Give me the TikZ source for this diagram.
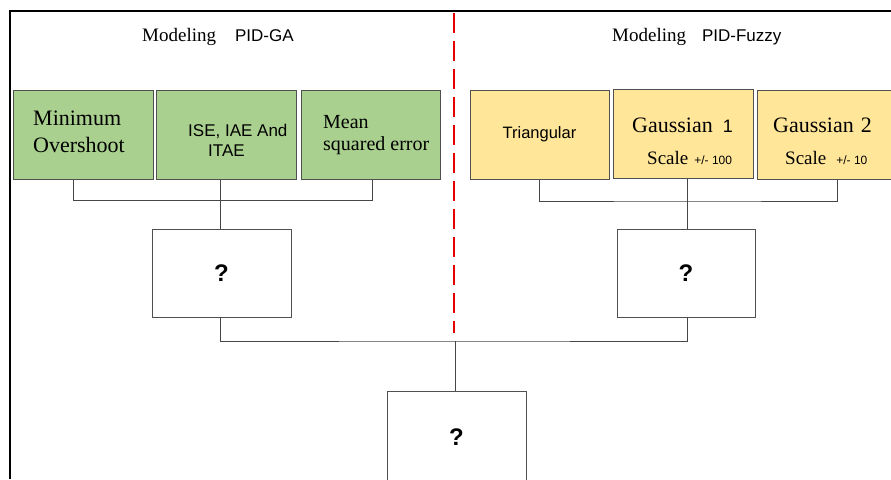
\documentclass[tikz,border=0pt]{standalone}
\usepackage{fontspec}
\setmainfont{Liberation Serif}
\setsansfont{Liberation Sans}
\usetikzlibrary{positioning, calc}
\definecolor{gagreen}{RGB}{169, 208, 142}
\definecolor{fzyellow}{RGB}{255, 230, 153}
\definecolor{boxgray}{RGB}{80, 80, 80}
\definecolor{linkgray}{RGB}{70, 70, 70}
\tikzset{
    critbox/.style={
        draw=boxgray, line width=1pt, minimum width=140pt, minimum height=89pt,
        inner sep=0pt, anchor=center
    },
    gabox/.style={critbox, fill=gagreen},
    fzbox/.style={critbox, fill=fzyellow},
    qbox/.style={
        draw=boxgray, line width=0.9pt, fill=white, minimum width=139pt,
        minimum height=88pt, inner sep=0pt, font=\sffamily\bfseries\fontsize{24}{24}\selectfont
    },
    boxtxt/.style={inner sep=0pt, anchor=west, align=left},
    link/.style={draw=linkgray, line width=0.8pt}
}
\newcommand{\fs}[1]{\fontsize{#1}{#1}\selectfont}

\begin{document}
\begin{tikzpicture}[x=1pt, y=-1pt]
    \useasboundingbox (0,0) rectangle (891,479);

    \begin{scope}
        \clip (0,0) rectangle (891,479);

        % --- TIEU DE ---
        \node[boxtxt] (tGA) at (142,37) {\fs{19}Modeling\hspace{19pt}{\sffamily\fs{17}PID-GA}};
        \node[boxtxt] (tFz) at (612,37) {\fs{19}Modeling\hspace{16pt}{\sffamily\fs{17}PID-Fuzzy}};

        % --- HANG TIEU CHI (GA) ---
        \node[gabox] (gaMin) at (83,134.5) {};
        \node[gabox] (gaIse) at (226,134.5) {};
        \node[gabox, minimum width=139pt] (gaMse) at (370.5,134.5) {};
        \node[boxtxt, font=\fontsize{22}{27}\selectfont] (gaMinTxt) at (33,131.5)
            {Minimum\\Overshoot};
        \node[boxtxt, font=\sffamily\fontsize{17}{20}\selectfont] (gaIseTxt) at (188,140)
            {ISE, IAE And\\\hspace*{20pt}ITAE};
        \node[boxtxt, font=\fontsize{20}{22}\selectfont] (gaMseTxt) at (323,135)
            {Mean\\squared error};

        % --- HANG HAM THUOC (FUZZY) ---
        \node[fzbox, minimum width=139pt] (fzTri) at (539.5,134.5) {};
        \node[fzbox] (fzGa1) at (683,133.5) {};
        \node[fzbox] (fzGa2) at (827,134.5) {};
        \node[inner sep=0pt, font=\sffamily\fs{16.5}] (fzTriTxt) at (fzTri) {Triangular};
        \node[boxtxt, font=\fontsize{19}{32}\selectfont] (fzGa1Txt) at (632,141)
            {{\fs{22}Gaussian}\hspace{10pt}{\sffamily\fs{18}1}\\
             \hspace*{15pt}Scale\hspace{6pt}{\sffamily\fs{12}+/- 100}};
        \node[boxtxt, font=\fontsize{19}{32}\selectfont] (fzGa2Txt) at (773,141)
            {{\fs{22}Gaussian}\hspace{7pt}{\fs{22}2}\\
             \hspace*{12pt}Scale\hspace{10pt}{\sffamily\fs{12}+/- 10}};

        % --- HOP DAU HOI ---
        \node[qbox] (qGA) at (221.5,273) {?};
        \node[qbox, minimum width=138pt] (qFz) at (686,273) {?};
        \node[qbox, minimum height=120pt, anchor=north] (qAll) at (456.5,391) {};
        \node[inner sep=0pt, font=\sffamily\bfseries\fs{24}] (qAllTxt) at (456.5,437) {?};

        % --- DUONG NOI ---
        \coordinate (busGA) at (220,200.5);
        \coordinate (busFz) at (687,201);
        \coordinate (busAll) at (455,341);
        \draw[link] (gaMin.south -| 73,0) |- (busGA) -| (gaMse.south -| 372,0);
        \draw[link] (qGA.north -| busGA) -- (busGA |- gaIse.south);
        \draw[link] (fzTri.south) |- (busFz) -| (fzGa2.south -| 837,0);
        \draw[link] (qFz.north -| busFz) -- (busFz |- fzGa1.south);
        \draw[link] (qGA.south -| busGA) |- (busAll) -| (qFz.south -| busFz);
        \draw[link] (busAll) -- (qAll.north -| busAll);

        % --- DUONG PHAN CACH ---
        \draw[red!90!black, line width=2.6pt, dash pattern=on 20pt off 8pt] (454,13) -- (454,333);

        % --- VIEN ---
        \draw[black, line width=2pt] (9.5,479) -- (9.5,11) -- (891,11);
    \end{scope}
\end{tikzpicture}
\end{document}
